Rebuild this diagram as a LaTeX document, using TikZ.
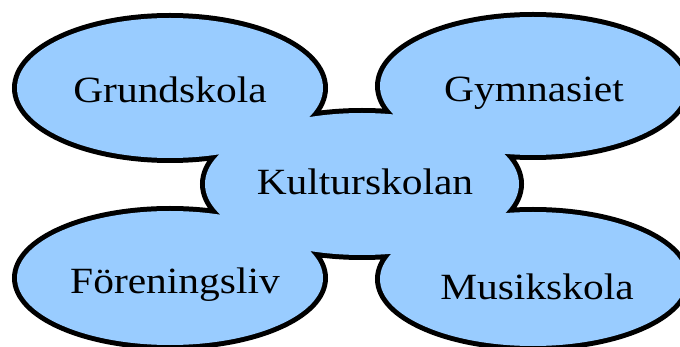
\documentclass[tikz,border=0pt]{standalone}
\usepackage{fontspec}
\setmainfont{Liberation Serif}[FakeStretch=1.12]
\definecolor{blobblue}{HTML}{99CCFF}
\pgfdeclarelayer{outline}
\pgfdeclarelayer{fills}
\pgfsetlayers{outline,fills,main}
\tikzset{
  lbl/.style={anchor=base, inner sep=0pt, font=\fontsize{37}{40}\selectfont, text=black},
  rim/.style={draw=black, line width=10pt},
  body/.style={fill=blobblue}
}
\begin{document}
\begin{tikzpicture}[x=1pt,y=-1pt]
\useasboundingbox (0,0) rectangle (680,347);
\def\blobs{
  (170,88) ellipse [x radius=153, y radius=70]
  (533,86) ellipse [x radius=153, y radius=69]
  (170,278) ellipse [x radius=153, y radius=67]
  (533,279) ellipse [x radius=153, y radius=67]
  (362,184) ellipse [x radius=157, y radius=71]
}
\begin{pgfonlayer}{outline}
  \path[rim] \blobs;
\end{pgfonlayer}
\begin{pgfonlayer}{fills}
  \path[body] \blobs;
\end{pgfonlayer}
\node[lbl] (grund) at (170,103) {Grundskola};
\node[lbl] (gymn) at (534,102) {Gymnasiet};
\node[lbl] (kultur) at (365,195) {Kulturskolan};
\node[lbl] (foren) at (175,294) {Föreningsliv};
\node[lbl] (musik) at (537,300) {Musikskola};
\end{tikzpicture}
\end{document}
